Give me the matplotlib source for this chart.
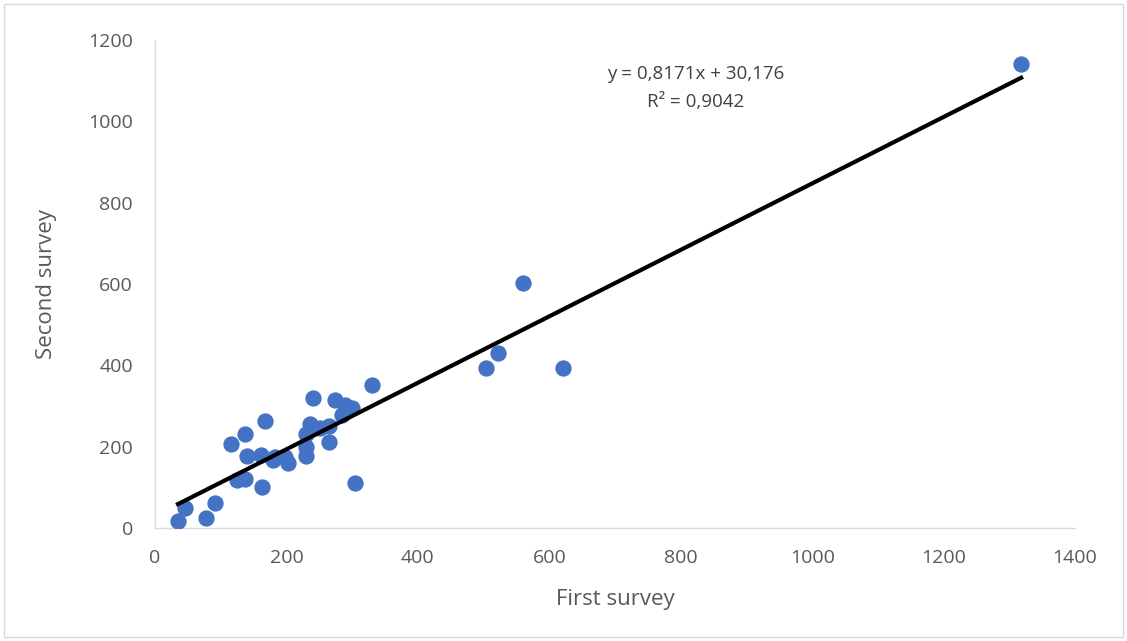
import matplotlib.pyplot as plt
from matplotlib.patches import Rectangle

# data
first_survey = [1318, 560, 522, 504, 621, 330, 304, 240, 274, 289, 300, 285,
                236, 265, 251, 230, 265, 230, 230, 167, 137, 116, 140, 161,
                180, 183, 198, 203, 125, 137, 163, 91, 46, 78, 35]
second_survey = [1140, 602, 430, 393, 393, 351, 110, 319, 314, 302, 295, 278,
                 255, 251, 245, 232, 211, 198, 177, 263, 232, 206, 178, 180,
                 167, 175, 175, 161, 117, 121, 101, 62, 48, 25, 18]
slope = 0.8171
intercept = 30.176
r2 = 0.9042

plt.rcParams['font.family'] = ['Open Sans', 'DejaVu Sans']

fig = plt.figure(figsize=(11.27, 6.41), dpi=100)
ax = fig.add_axes([155 / 1127, 1 - 528 / 641, 920 / 1127, 488 / 641])

ax.scatter(first_survey, second_survey, s=115, color="#4472C4", zorder=3)

# linear trendline
x0, x1 = min(first_survey), max(first_survey)
ax.plot([x0, x1], [slope * x0 + intercept, slope * x1 + intercept],
        color="black", lw=3, zorder=4)

ax.text(822, 1116, f"y = {slope:.4f}x + {intercept:.3f}".replace(".", ","),
        ha="center", va="center", fontsize=13.5, color="#404040")
ax.text(822, 1047, f"R² = {r2:.4f}".replace(".", ","),
        ha="center", va="center", fontsize=13.5, color="#404040")

ax.set_xlim(0, 1400)
ax.set_ylim(0, 1200)
ax.set_xticks(range(0, 1401, 200))
ax.set_yticks(range(0, 1201, 200))
ax.tick_params(length=0, labelsize=14, labelcolor="#595959")
ax.tick_params(axis="x", pad=15)
ax.tick_params(axis="y", pad=16)

for side in ["top", "right"]:
    ax.spines[side].set_visible(False)
for side in ["left", "bottom"]:
    ax.spines[side].set_color("#D9D9D9")
    ax.spines[side].set_linewidth(1)

ax.set_xlabel("First survey", fontsize=16, color="#595959", va="center")
ax.set_ylabel("Second survey", fontsize=16, color="#595959", va="center")
ax.xaxis.set_label_coords(0.5, (528 - 600) / 488)
ax.yaxis.set_label_coords((47 - 155) / 920, 0.5)

# chart border
fig.patches.append(Rectangle((4 / 1127, 4 / 641), 1 - 8 / 1127, 1 - 8 / 641,
                             transform=fig.transFigure, fill=False,
                             edgecolor="#D9D9D9", lw=1))

fig.savefig("out.png", dpi=100)
